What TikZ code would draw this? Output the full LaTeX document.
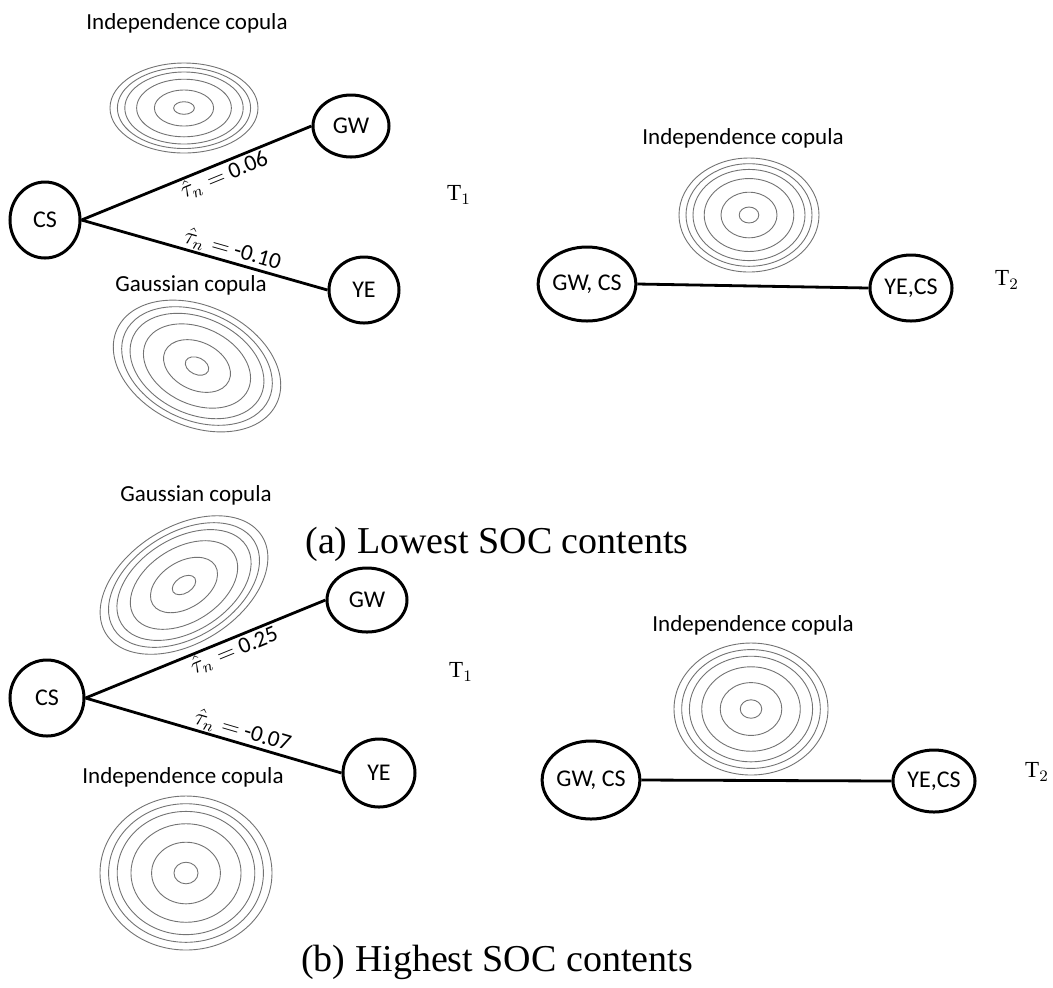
\documentclass[tikz,border=0pt]{standalone}
\usepackage{fontspec}
\setmainfont{Carlito}
\newfontfamily\timesfont{Liberation Serif}
\usetikzlibrary{shapes.geometric}

\begin{document}
\begin{tikzpicture}[x=0.5pt, y=-0.5pt, every node/.style={font=\fontsize{11.5}{14}\selectfont},
	var/.style={ellipse, draw, line width=1.5pt, inner sep=0pt, font=\fontsize{12}{14}\selectfont},
	contour/.style={black!55, line width=0.45pt},
	edge/.style={line width=1.4pt},
	tau/.style={sloped, pos=0.6, inner sep=0.5pt},
	tlab/.style={font=\timesfont\fontsize{11.5}{13}\selectfont},
	captext/.style={font=\timesfont\fontsize{19}{22}\selectfont}]
	\useasboundingbox (0,0) rectangle (1053,987);
	% contour plots: centre x/y, radii, tilt
	\foreach \cx/\cy/\rx/\ry/\ang in {184/108/74/45/0, 197/366/88/60/-25, 749/215/70/57/0, 184/585/92/58/32, 186/873/86/77/0, 751/709/77/66/0} {
		\foreach \f in {1,0.9,0.8,0.64,0.4,0.14} {
			\draw[contour, rotate around={\ang:(\cx,\cy)}] (\cx,\cy) ellipse [x radius=\f*\rx, y radius=\f*\ry];
		}
	}
	% (a) lowest SOC, tree T1
	\node (indA1) at (187,23) {Independence copula};
	\node (gauA1) at (191,285) {Gaussian copula};
	\node[var, minimum width=35pt, minimum height=38pt] (csA) at (45,220) {CS};
	\node[var, minimum width=38pt, minimum height=31pt] (gwA) at (351,126) {GW};
	\node[var, minimum width=35pt, minimum height=33pt] (yeA) at (364,290) {YE};
	\draw[edge] (csA.east) -- node[tau, below] {$\hat\tau_n=$ 0.06} (gwA.west);
	\draw[edge] (csA.east) -- node[tau, above] {$\hat\tau_n=$ -0.10} (yeA.west);
	\node[tlab] (tA1) at (459,195) {T$_1$};
	% (a) tree T2
	\node (indA2) at (743,138) {Independence copula};
	\node[var, minimum width=46pt, minimum height=37pt] (gwcsA) at (587,284) {GW, CS};
	\node[var, minimum width=41pt, minimum height=33pt] (yecsA) at (911,288) {YE,CS};
	\draw[edge] (gwcsA.east) -- (yecsA.west);
	\node[tlab] (tA2) at (1007,280) {T$_2$};
	\node[captext] (capA) at (497,544) {(a) Lowest SOC contents};
	% (b) highest SOC, tree T1
	\node (gauB1) at (196,495) {Gaussian copula};
	\node (indB1) at (183,777) {Independence copula};
	\node[var, minimum width=37pt, minimum height=38pt] (csB) at (47,698) {CS};
	\node[var, minimum width=40pt, minimum height=32pt] (gwB) at (367,600) {GW};
	\node[var, minimum width=36pt, minimum height=34pt] (yeB) at (379,773) {YE};
	\draw[edge] (csB.east) -- node[tau, below] {$\hat\tau_n=$ 0.25} (gwB.west);
	\draw[edge] (csB.east) -- node[tau, above] {$\hat\tau_n=$ -0.07} (yeB.west);
	\node[tlab] (tB1) at (461,672) {T$_1$};
	% (b) tree T2
	\node (indB2) at (753,625) {Independence copula};
	\node[var, minimum width=48pt, minimum height=39pt] (gwcsB) at (591,780) {GW, CS};
	\node[var, minimum width=41pt, minimum height=31pt] (yecsB) at (934,781) {YE,CS};
	\draw[edge] (gwcsB.east) -- (yecsB.west);
	\node[tlab] (tB2) at (1037,772) {T$_2$};
	\node[captext] (capB) at (497,962) {(b) Highest SOC contents};
\end{tikzpicture}
\end{document}
